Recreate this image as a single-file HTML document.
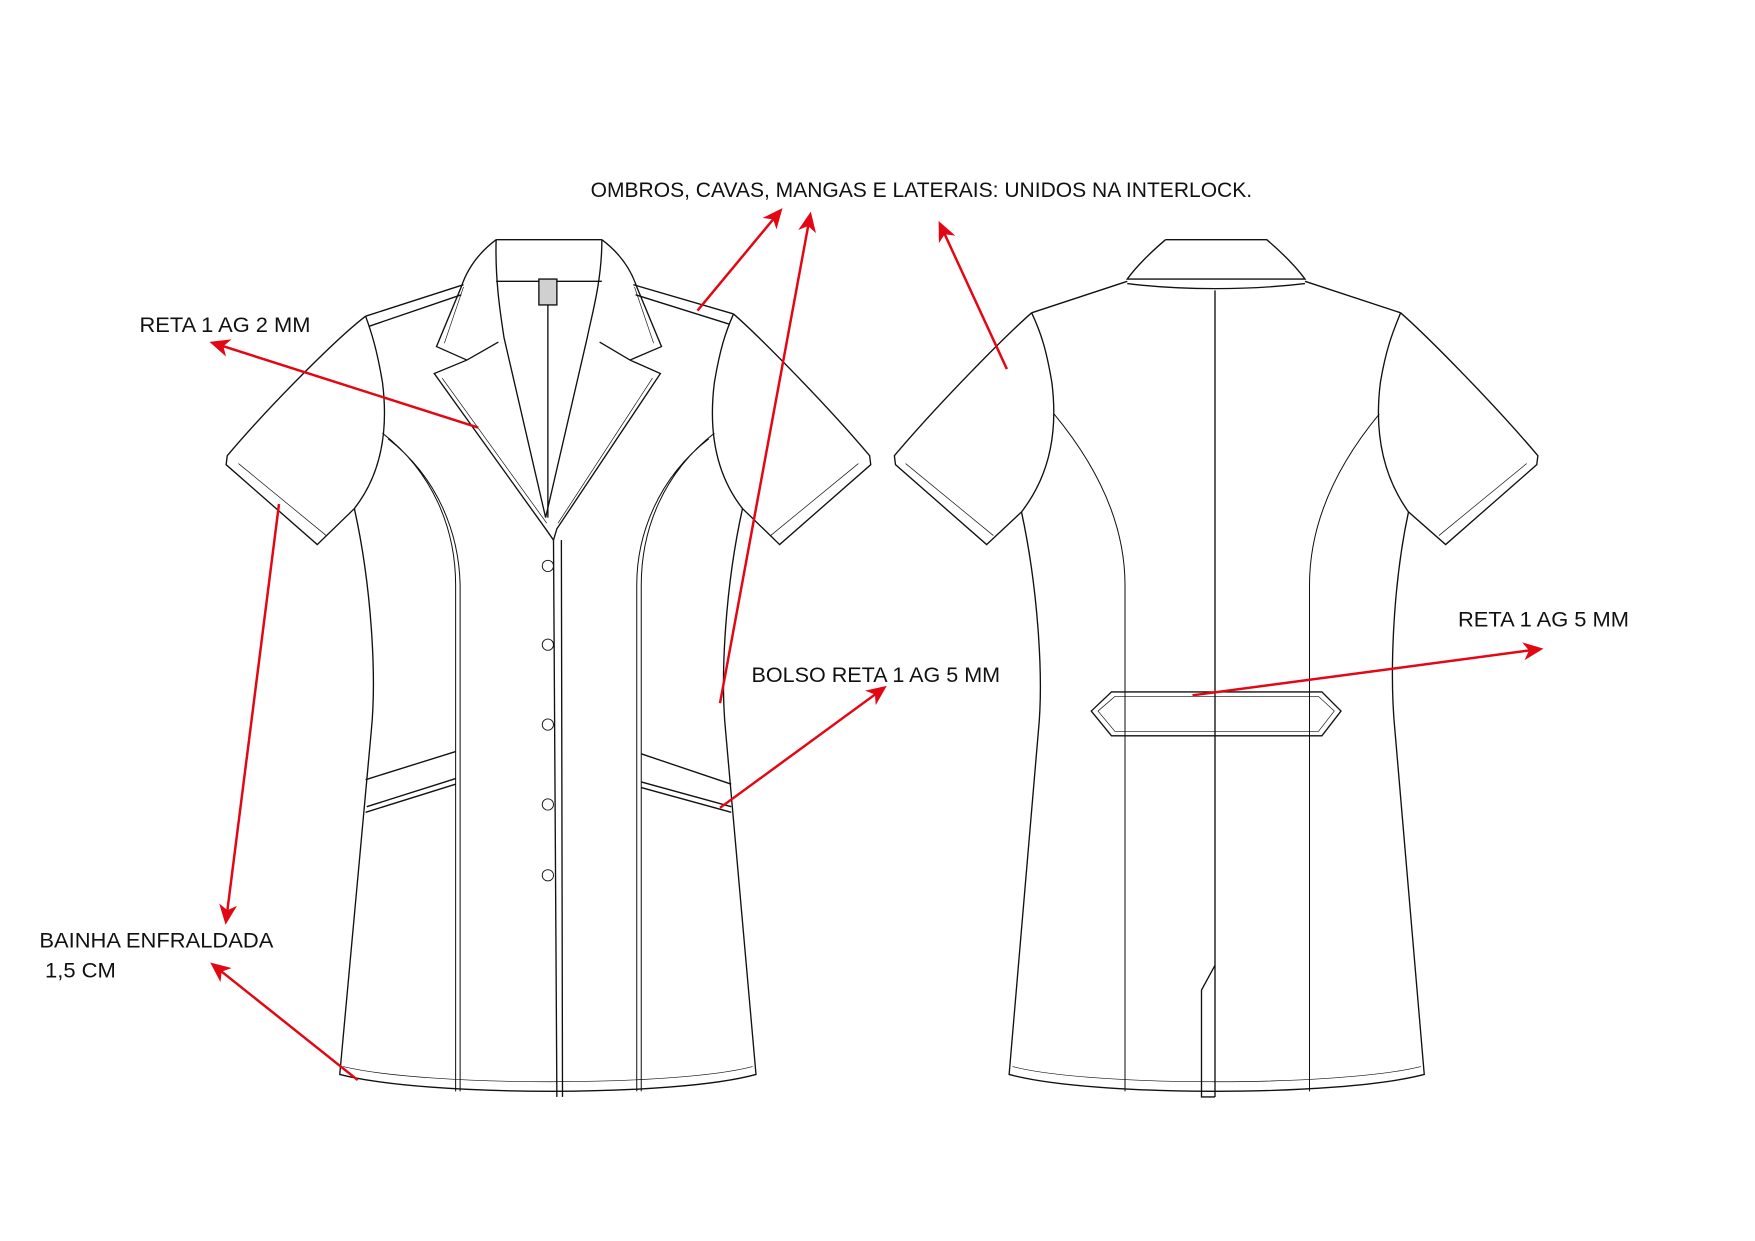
<!DOCTYPE html>
<html><head><meta charset="utf-8"><style>html,body{margin:0;padding:0;background:#fff}svg{display:block}</style></head>
<body>
<svg width="1755" height="1241" viewBox="0 0 1560 1103" xmlns="http://www.w3.org/2000/svg">
<defs>
<marker id="ah" markerWidth="18" markerHeight="16" refX="14" refY="8" orient="auto" markerUnits="userSpaceOnUse" viewBox="0 0 18 16">
<path d="M0,0 L18,8 L0,16 L5,8 z" fill="#e30613"/></marker>
</defs>
<rect width="1560" height="1103" fill="#fff"/>
<g fill="none" stroke="#111" stroke-width="1.2">
<path d="M441,213 L535,213"/>
<path d="M441,213 C425,225 415,240 410,255 L388,308 L415,320"/>
<path d="M535,213 C551,225 561,240 566,255 L588,308 L560,320"/>
<path d="M395,305 L412,255 M581,305 L564,255" stroke-width="0.6"/>
<path d="M443,304 L415,320 L386,332 L485,470 L492,480"/>
<path d="M533,304 L560,320 L587,332 L495,470 L492,480"/>
<path d="M393,336 L486,465 M580,336 L496,465" stroke-width="0.6"/>
<path d="M441,213 C440,250 445,280 448,300 L485,460 L522,300 C526,280 535,250 535,213"/>
<path d="M441,250 L535,250"/>
<rect x="479" y="248" width="16" height="23" fill="#d0d0d0"/>
<path d="M487,271 L487,460"/>
<path d="M412,253 L325,281 M410,262 L328,290 M563,253 L652,279 M565,262 L648,288"/>
<path d="M325,281 C300,300 240,360 202,405 L201,413 L282,484 L315,452 C340,420 345,380 340,340 C335,310 330,295 325,281"/>
<path d="M212,412 L290,476" stroke-width="0.6"/>
<path d="M652,279 C676,300 735,360 773,405 L774,413 L693,484 L660,452 C635,420 630,380 635,340 C640,310 645,295 652,279"/>
<path d="M763,412 L685,476" stroke-width="0.6"/>
<path d="M315,452 C330,520 335,600 330,650 L302,955 C380,975 600,975 672,955 L645,650 C640,600 645,520 660,452"/>
<path d="M305,948 C380,966 600,966 669,948" stroke-width="0.6"/>
<path d="M340,385 C385,420 405,470 405,520 L405,970 M345,390 C390,425 408,475 409,520 L409,970" stroke-width="0.9"/>
<path d="M635,385 C590,420 570,470 570,520 L570,970 M630,390 C585,425 566,475 566,520 L566,970" stroke-width="0.9"/>
<path d="M492,480 L495,975 M499,480 L500,975"/>
<path d="M325,693 L405,668 M325,722 L405,697 M326,717 L405,692" />
<path d="M570,670 L650,697 M570,700 L650,722 M570,695 L650,717"/>
<g stroke-width="0.8">
<circle cx="487" cy="503" r="5"/><circle cx="487" cy="573" r="5"/><circle cx="487" cy="644" r="5"/><circle cx="487" cy="715" r="5"/><circle cx="487" cy="778" r="5"/>
</g>
<path d="M1036,213 L1126,213 C1140,225 1152,237 1160,248 L1002,248 C1010,237 1022,225 1036,213"/>
<path d="M1002,252 C1050,258 1110,258 1160,252"/>
<path d="M1002,250 L917,278 M1160,250 L1245,278"/>
<path d="M1080,258 L1080,975"/>
<path d="M917,278 C892,300 833,360 795,405 L796,413 L877,484 L908,455 C935,420 940,380 935,340 C930,310 925,295 917,278"/>
<path d="M805,412 L883,476" stroke-width="0.6"/>
<path d="M1245,278 C1270,300 1329,360 1367,405 L1366,413 L1285,484 L1252,455 C1227,420 1222,380 1227,340 C1232,310 1238,295 1245,278"/>
<path d="M1357,412 L1279,476" stroke-width="0.6"/>
<path d="M908,455 C922,520 928,600 923,650 L897,955 C970,975 1190,975 1266,955 L1240,650 C1235,600 1238,520 1252,455"/>
<path d="M900,948 C970,966 1190,966 1263,948" stroke-width="0.6"/>
<path d="M937,368 C980,420 1000,470 1000,520 L1000,970 M1226,368 C1183,420 1164,470 1164,520 L1164,970" stroke-width="0.9"/>
<path d="M970,632 L988,615 L1175,615 L1192,632 L1175,654 L988,654 Z"/>
<path d="M976,632 L991,619 L1172,619 L1186,632 L1172,650 L991,650 Z" stroke-width="0.6"/>
<path d="M1080,858 L1068,880 L1068,975 L1080,975"/>
</g>
<g stroke="#e30613" stroke-width="2.2" fill="none" marker-end="url(#ah)">
<path d="M620,276 L693,188"/>
<path d="M640,625 L720,192"/>
<path d="M895,328 L836,200"/>
<path d="M425,380 L190,305"/>
<path d="M248,448 L201,818"/>
<path d="M318,960 L190,858"/>
<path d="M640,718 L785,612"/>
<path d="M1060,618 L1368,577"/>
</g>
<g font-family="Liberation Sans, sans-serif" font-size="19" fill="#111">
<text x="525" y="175" textLength="588" lengthAdjust="spacingAndGlyphs">OMBROS, CAVAS, MANGAS E LATERAIS: UNIDOS NA INTERLOCK.</text>
<text x="124" y="295" textLength="152" lengthAdjust="spacingAndGlyphs">RETA 1 AG 2 MM</text>
<text x="35" y="842" textLength="208" lengthAdjust="spacingAndGlyphs">BAINHA ENFRALDADA</text>
<text x="40" y="869" textLength="63" lengthAdjust="spacingAndGlyphs">1,5 CM</text>
<text x="668" y="606" textLength="221" lengthAdjust="spacingAndGlyphs">BOLSO RETA 1 AG 5 MM</text>
<text x="1296" y="557" textLength="152" lengthAdjust="spacingAndGlyphs">RETA 1 AG 5 MM</text>
</g>
</svg>
</body></html>
